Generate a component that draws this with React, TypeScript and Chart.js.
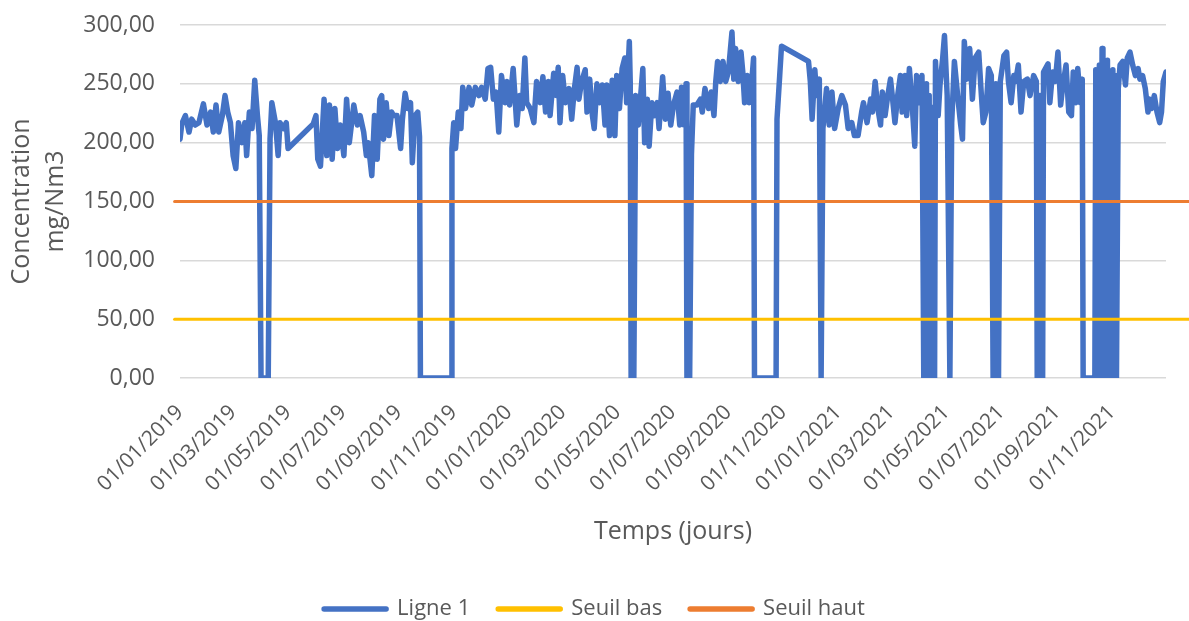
import React, { useEffect, useRef } from 'react';
import { Chart, registerables } from 'chart.js';

Chart.register(...registerables);

// Days since 01/01/2019 and the measured concentration (mg/Nm3)
const ligneDays = [
  0, 2, 6, 10, 13, 17, 21, 26, 30, 34, 37, 40, 43, 47, 50, 53, 56, 59, 62, 65, 69, 72, 74, 77, 80, 83, 86, 88, 90, 98,
  100, 102, 106, 109, 111, 115, 118, 120, 148, 151, 153, 156, 160, 163, 166, 169, 172, 175, 178, 182, 185, 188, 193, 197, 200, 204, 207, 209, 213, 216, 219, 222,
  224, 226, 229, 232, 235, 237, 241, 245, 247, 250, 253, 256, 258, 261, 264, 266, 267, 301, 302, 304, 306, 309, 312, 314, 317, 321, 324, 328, 332, 335, 339, 342, 345, 348,
  351, 354, 357, 361, 363, 366, 370, 374, 377, 380, 383, 385, 389, 393, 396, 400, 403, 406, 409, 411, 415, 418, 420, 422, 425, 428, 432, 435, 438, 441, 443,
  446, 450, 452, 455, 458, 460, 463, 466, 469, 472, 474, 477, 480, 483, 485, 488, 491, 494, 496, 499, 500, 501, 503, 504, 506, 509, 514, 516, 519, 521, 524, 527, 530, 532,
  536, 539, 542, 545, 548, 552, 555, 557, 560, 562, 563, 566, 568, 570, 574, 578, 580, 583, 587, 590, 593, 595, 597, 600, 603, 606, 609, 611, 613, 615, 617, 620, 623, 625,
  627, 630, 632, 635, 637, 638, 662, 663, 666, 668,
  698, 700, 702, 705, 707, 710, 712, 714, 718, 721, 724, 727, 731, 735, 739, 742, 746, 749, 753, 757, 759, 763, 767, 769, 772, 775, 778, 780, 783, 786, 789, 791, 794, 797,
  800, 802, 805, 807, 810, 813, 816, 818, 821, 824, 826, 828, 829, 830, 832, 833, 835, 837, 838, 839, 842, 844, 847, 849, 852, 855, 857, 860, 864, 867, 869, 871, 874, 877, 880,
  883, 887, 890, 892, 895, 898, 901, 903, 905, 906, 907, 909, 911, 915, 918, 920, 923, 926, 928, 931, 934, 937, 941, 944, 948, 951, 952, 954, 955, 956, 958, 959, 964, 966, 969,
  972, 975, 978, 980, 984, 987, 990, 992, 995, 997, 1000, 1002, 1003, 1016, 1017, 1019, 1021, 1022, 1024, 1025, 1027, 1028, 1030, 1031, 1033, 1034, 1036, 1037, 1039, 1040,
  1042, 1044, 1047, 1050, 1052, 1055, 1058, 1061, 1064, 1066, 1069, 1072, 1075, 1077, 1079, 1082, 1085, 1088, 1090, 1092, 1095,
];
const ligneValues = [
  203, 216, 223, 209, 220, 215, 217, 233, 215, 226, 209, 232, 209, 223, 240, 226, 217, 189, 178, 217, 200, 217, 189, 226, 212, 253, 223, 206, 0, 0,
  203, 234, 217, 189, 217, 212, 217, 195, 216, 223, 186, 180, 237, 189, 232, 186, 229, 195, 215, 189, 237, 200, 232, 215, 223, 209, 189, 200, 172, 223, 186, 237,
  240, 203, 234, 206, 226, 223, 223, 195, 220, 242, 229, 234, 183, 223, 226, 205, 0, 0, 195, 217, 195, 226, 212, 247, 229, 247, 232, 247, 240, 247, 237, 263, 264, 237,
  243, 209, 257, 234, 252, 232, 263, 215, 240, 229, 272, 234, 229, 217, 252, 234, 256, 226, 252, 223, 259, 240, 264, 217, 257, 234, 246, 220, 246, 264, 237,
  252, 262, 226, 254, 223, 212, 250, 234, 249, 215, 249, 206, 253, 206, 257, 229, 263, 272, 234, 286, 252, 0, 190, 0, 240, 215, 263, 200, 237, 197, 234, 223, 234, 212,
  256, 220, 242, 215, 232, 243, 215, 247, 215, 250, 0, 0, 190, 232, 232, 237, 226, 246, 229, 243, 223, 252, 269, 252, 269, 252, 260, 277, 294, 254, 280, 252, 277, 260,
  234, 257, 234, 252, 272, 0, 0, 220, 257, 282,
  269, 252, 220, 262, 240, 254, 0, 212, 246, 215, 243, 212, 229, 240, 232, 212, 217, 206, 206, 226, 234, 217, 237, 226, 252, 229, 215, 243, 223, 240, 254, 240, 217, 240,
  257, 226, 257, 223, 263, 234, 197, 257, 234, 257, 0, 0, 250, 0, 240, 0, 230, 0, 0, 269, 223, 249, 272, 291, 240, 0, 217, 269, 237, 215, 203, 286, 254, 280, 237,
  272, 277, 240, 217, 226, 263, 257, 0, 0, 250, 0, 0, 252, 274, 277, 252, 234, 257, 252, 266, 226, 252, 254, 240, 257, 252, 0, 0, 240, 0, 0, 260, 267, 234, 260,
  252, 277, 232, 246, 266, 226, 223, 260, 234, 263, 234, 254, 0, 0, 262, 0, 266, 0, 280, 0, 263, 0, 270, 0, 258, 0, 262, 0, 257, 0,
  246, 266, 269, 249, 272, 277, 266, 257, 263, 254, 257, 246, 226, 237, 229, 240, 226, 217, 226, 252, 260,
];

// Threshold series (constant levels)
const thresholdDays = [-6, 1121];
const seuilBasValues = [50, 50];
const seuilHautValues = [150, 150];

// Axis ticks
const xTickDays = [0, 59, 120, 181, 243, 304, 365, 425, 486, 547, 609, 670, 731, 790, 851, 912, 974, 1035];
const xTickLabels = [
  '01/01/2019', '01/03/2019', '01/05/2019', '01/07/2019', '01/09/2019', '01/11/2019',
  '01/01/2020', '01/03/2020', '01/05/2020', '01/07/2020', '01/09/2020', '01/11/2020',
  '01/01/2021', '01/03/2021', '01/05/2021', '01/07/2021', '01/09/2021', '01/11/2021',
];
const yTickValues = [0, 50, 100, 150, 200, 250, 300];
const yTickLabels = ['0,00', '50,00', '100,00', '150,00', '200,00', '250,00', '300,00'];

const FONT = "'Open Sans', sans-serif";
const TEXT = '#595959';

export default function App() {
  const ref = useRef<HTMLCanvasElement>(null);

  useEffect(() => {
    let chart: Chart | null = null;
    let cancelled = false;

    const make = () => {
      if (cancelled || !ref.current) return;
      Chart.defaults.font.family = FONT;
      Chart.defaults.color = TEXT;
      chart = new Chart(ref.current, {
        type: 'line',
        data: {
          datasets: [
            {
              label: 'Ligne 1',
              data: ligneDays.map((d, i) => ({ x: d, y: ligneValues[i] })),
              borderColor: '#4472C4',
              backgroundColor: '#4472C4',
              borderWidth: 5.5,
              pointRadius: 0,
              tension: 0,
              borderCapStyle: 'round',
              borderJoinStyle: 'round',
              order: 1,
            },
            {
              label: 'Seuil bas',
              data: thresholdDays.map((d, i) => ({ x: d, y: seuilBasValues[i] })),
              borderColor: '#FFC000',
              backgroundColor: '#FFC000',
              borderWidth: 3,
              pointRadius: 0,
              borderCapStyle: 'round',
              clip: false,
              order: 0,
            },
            {
              label: 'Seuil haut',
              data: thresholdDays.map((d, i) => ({ x: d, y: seuilHautValues[i] })),
              borderColor: '#ED7D31',
              backgroundColor: '#ED7D31',
              borderWidth: 3,
              pointRadius: 0,
              borderCapStyle: 'round',
              clip: false,
              order: 0,
            },
          ],
        },
        options: {
          responsive: false,
          animation: false,
          events: [],
          layout: { padding: { left: 0, right: 0, top: 25, bottom: -9 } },
          scales: {
            x: {
              type: 'linear',
              min: 0,
              max: 1095,
              afterBuildTicks: (s: any) => {
                s.ticks = xTickDays.map((v) => ({ value: v }));
              },
              afterFit: (s: any) => {
                s.height = 192;
              },
              grid: { display: false, drawTicks: false },
              border: { display: false },
              ticks: {
                autoSkip: false,
                maxRotation: 45,
                minRotation: 45,
                padding: 22,
                color: TEXT,
                font: { size: 21 },
                callback: (_v: any, i: number) => xTickLabels[i],
              },
              title: {
                display: true,
                text: 'Temps (jours)',
                color: TEXT,
                font: { size: 25 },
                padding: { top: 0, bottom: 23 },
              },
            },
            y: {
              min: 0,
              max: 300,
              afterBuildTicks: (s: any) => {
                s.ticks = yTickValues.map((v) => ({ value: v }));
              },
              afterFit: (s: any) => {
                s.width = 180;
              },
              grid: {
                color: '#d9d9d9',
                lineWidth: 1.5,
                drawTicks: true,
                tickLength: 25,
                tickColor: 'rgba(0,0,0,0)',
              },
              border: { display: false },
              ticks: {
                padding: 0,
                color: TEXT,
                font: { size: 23 },
                callback: (_v: any, i: number) => yTickLabels[i],
              },
              title: {
                display: true,
                text: ['Concentration', 'mg/Nm3'],
                color: TEXT,
                font: { size: 25, lineHeight: 1.35 },
                padding: { top: 5, bottom: 0 },
              },
            },
            yRightSpace: {
              position: 'right',
              display: true,
              min: 0,
              max: 300,
              afterFit: (s: any) => {
                s.width = 23;
              },
              grid: { display: false, drawTicks: false },
              border: { display: false },
              ticks: { display: false },
            },
          },
          plugins: {
            tooltip: { enabled: false },
            legend: {
              position: 'bottom',
              labels: {
                usePointStyle: true,
                pointStyle: 'line',
                pointStyleWidth: 62,
                padding: 28,
                color: TEXT,
                font: { size: 22 },
                generateLabels: (c: any) =>
                  Chart.defaults.plugins.legend.labels
                    .generateLabels(c)
                    .sort((a: any, b: any) => a.datasetIndex - b.datasetIndex)
                    .map((l: any) => ({ ...l, lineWidth: 5.5, lineCap: 'round', pointStyle: 'line' })),
              },
            },
          },
        },
      } as any);
    };

    const fonts: any = (document as any).fonts;
    if (fonts && fonts.load) {
      Promise.all([fonts.load(`21px ${FONT}`), fonts.load(`25px ${FONT}`)]).then(make, make);
    } else {
      make();
    }

    return () => {
      cancelled = true;
      if (chart) chart.destroy();
    };
  }, []);

  return (
    <div style={{ position: 'absolute', left: 0, top: 0, width: 1189, height: 621, background: '#ffffff' }}>
      <canvas ref={ref} width={1189} height={621} style={{ display: 'block' }} />
    </div>
  );
}
